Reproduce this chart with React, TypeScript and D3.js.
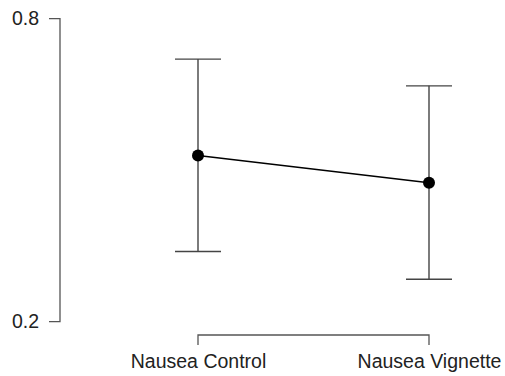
import { useEffect, useRef } from 'react';
import * as d3 from 'd3';

const categories = ['Nausea Control', 'Nausea Vignette'];
const means = [0.529, 0.475];
const upper = [0.72, 0.667];
const lower = [0.339, 0.284];
const yTicks = [0.2, 0.8];

export default function App() {
  const ref = useRef<SVGSVGElement>(null);

  useEffect(() => {
    const svg = d3.select(ref.current);
    svg.selectAll('*').remove();

    const font = '"Liberation Sans", Arial, sans-serif';

    const x = d3.scalePoint<string>().domain(categories).range([198, 429]);
    const y = d3.scaleLinear().domain([0.2, 0.8]).range([321.7, 18.7]);

    // y axis, only end ticks
    const yAxis = svg.append('g')
      .attr('transform', 'translate(60,0)')
      .call(d3.axisLeft(y).tickValues(yTicks).tickFormat(d3.format('.1f')).tickSize(11).tickPadding(10));
    yAxis.select('.domain').attr('d', `M-11,${y(0.8)}H0V${y(0.2)}H-11`).attr('stroke', '#555').attr('stroke-width', 1.3);
    yAxis.selectAll('.tick line').remove();
    yAxis.selectAll('.tick text')
      .style('font-family', font).style('font-size', '19.5px').attr('fill', '#222');

    // x axis bracket
    const xAxis = svg.append('g')
      .attr('transform', 'translate(0,335)')
      .call(d3.axisBottom(x).tickSize(10).tickPadding(9).tickSizeOuter(0));
    xAxis.select('.domain').attr('d', `M${x(categories[0])},10V0H${x(categories[1])}V10`).attr('stroke', '#555').attr('stroke-width', 1.3);
    xAxis.selectAll('.tick line').remove();
    xAxis.selectAll('.tick text')
      .style('font-family', font).style('font-size', '19.5px').attr('fill', '#222');

    const data = categories.map((c, i) => ({ c, m: means[i], hi: upper[i], lo: lower[i] }));

    // error bars
    const eb = svg.append('g').attr('stroke', '#444').attr('stroke-width', 1.4).attr('fill', 'none');
    data.forEach(d => {
      const cx = x(d.c)!;
      eb.append('line').attr('x1', cx).attr('x2', cx).attr('y1', y(d.hi)).attr('y2', y(d.lo));
      eb.append('line').attr('x1', cx - 23).attr('x2', cx + 23).attr('y1', y(d.hi)).attr('y2', y(d.hi));
      eb.append('line').attr('x1', cx - 23).attr('x2', cx + 23).attr('y1', y(d.lo)).attr('y2', y(d.lo));
    });

    const line = d3.line<typeof data[0]>().x(d => x(d.c)!).y(d => y(d.m));
    svg.append('path').datum(data).attr('d', line).attr('fill', 'none').attr('stroke', '#000').attr('stroke-width', 1.5);

    svg.selectAll('circle.pt').data(data).join('circle')
      .attr('class', 'pt')
      .attr('cx', d => x(d.c)!).attr('cy', d => y(d.m)).attr('r', 6).attr('fill', '#000');
  }, []);

  return (
    <svg ref={ref} width={505} height={376} style={{ position: 'absolute', left: 0, top: 0, background: '#fff' }} />
  );
}
